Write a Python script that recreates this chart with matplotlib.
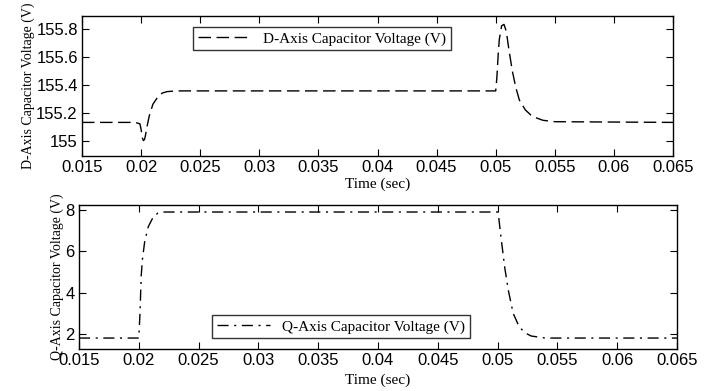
import matplotlib.pyplot as plt

# D-axis capacitor voltage
t_d = [0.015, 0.0195, 0.0199, 0.0200, 0.0201, 0.0202, 0.0203, 0.0204, 0.0205,
       0.0207, 0.0210, 0.0214, 0.0218, 0.0222, 0.0230, 0.0350, 0.0500, 0.0501,
       0.0502, 0.0503, 0.0505, 0.0507, 0.0509, 0.0511, 0.0514, 0.0517, 0.0520,
       0.0525, 0.0530, 0.0535, 0.0540, 0.0550, 0.0650]
v_d = [155.13, 155.13, 155.12, 155.08, 155.02, 155.0, 155.01, 155.05, 155.10,
       155.18, 155.26, 155.31, 155.34, 155.35, 155.355, 155.355, 155.355, 155.45,
       155.60, 155.72, 155.82, 155.83, 155.78, 155.66, 155.50, 155.38, 155.29,
       155.22, 155.18, 155.16, 155.145, 155.135, 155.13]

# Q-axis capacitor voltage
t_q = [0.015, 0.0200, 0.0201, 0.0202, 0.0203, 0.0205, 0.0208, 0.0212, 0.0216,
       0.0220, 0.0350, 0.0500, 0.0501, 0.0503, 0.0506, 0.0509, 0.0513, 0.0518,
       0.0523, 0.0528, 0.0535, 0.0540, 0.0650]
v_q = [1.8, 1.8, 3.0, 4.8, 5.6, 6.5, 7.2, 7.65, 7.85,
       7.9, 7.9, 7.9, 7.6, 6.6, 5.2, 4.1, 3.0, 2.35,
       2.05, 1.9, 1.84, 1.8, 1.8]

xticks = [0.015, 0.02, 0.025, 0.03, 0.035, 0.04, 0.045, 0.05, 0.055, 0.06, 0.065]
xlabels = ["0.015", "0.02", "0.025", "0.03", "0.035", "0.04", "0.045", "0.05", "0.055", "0.06", "0.065"]

serif = "Liberation Serif"
sans = "Liberation Sans"

fig = plt.figure(figsize=(7.1, 3.91), dpi=100)
ax1 = fig.add_axes([82 / 710, 1 - 156 / 391, 591 / 710, 140 / 391])
ax2 = fig.add_axes([79 / 710, 1 - 349 / 391, 598 / 710, 144 / 391])

ax1.plot(t_d, v_d, color="black", lw=1.0, dashes=(9, 4), label="D-Axis Capacitor Voltage (V)")
ax1.set_xlim(0.015, 0.065)
ax1.set_ylim(154.89, 155.89)
ax1.set_yticks([155, 155.2, 155.4, 155.6, 155.8])
ax1.set_yticklabels(["155", "155.2", "155.4", "155.6", "155.8"])
ax1.set_ylabel("D-Axis Capacitor Voltage (V)", family=serif, fontsize=10, labelpad=1)
ax1.legend(loc="upper left", bbox_to_anchor=(0.175, 0.975), frameon=True, fancybox=False,
           edgecolor="black", prop={"family": serif, "size": 11}, handlelength=3.5,
           borderpad=0.3)

ax2.plot(t_q, v_q, color="black", lw=1.0, dashes=(8, 4, 1.5, 4), label="Q-Axis Capacitor Voltage (V)")
ax2.set_xlim(0.015, 0.065)
ax2.set_ylim(1.27, 8.24)
ax2.set_yticks([2, 4, 6, 8])
ax2.set_ylabel("Q-Axis Capacitor Voltage (V)", family=serif, fontsize=10, labelpad=1)
ax2.legend(loc="lower left", bbox_to_anchor=(0.21, 0.02), frameon=True, fancybox=False,
           edgecolor="black", prop={"family": serif, "size": 11}, handlelength=3.5,
           borderpad=0.3)

for ax, lp in ((ax1, 2), (ax2, 4)):
    ax.set_xticks(xticks)
    ax.set_xticklabels(xlabels)
    ax.set_xlabel("Time (sec)", family=serif, fontsize=11, labelpad=lp)
    ax.tick_params(direction="in", top=True, right=True, length=5, labelsize=12, pad=3)
    for lab in ax.get_xticklabels() + ax.get_yticklabels():
        lab.set_family(sans)
    for s in ax.spines.values():
        s.set_linewidth(1.0)

fig.savefig("out.png", dpi=100)
